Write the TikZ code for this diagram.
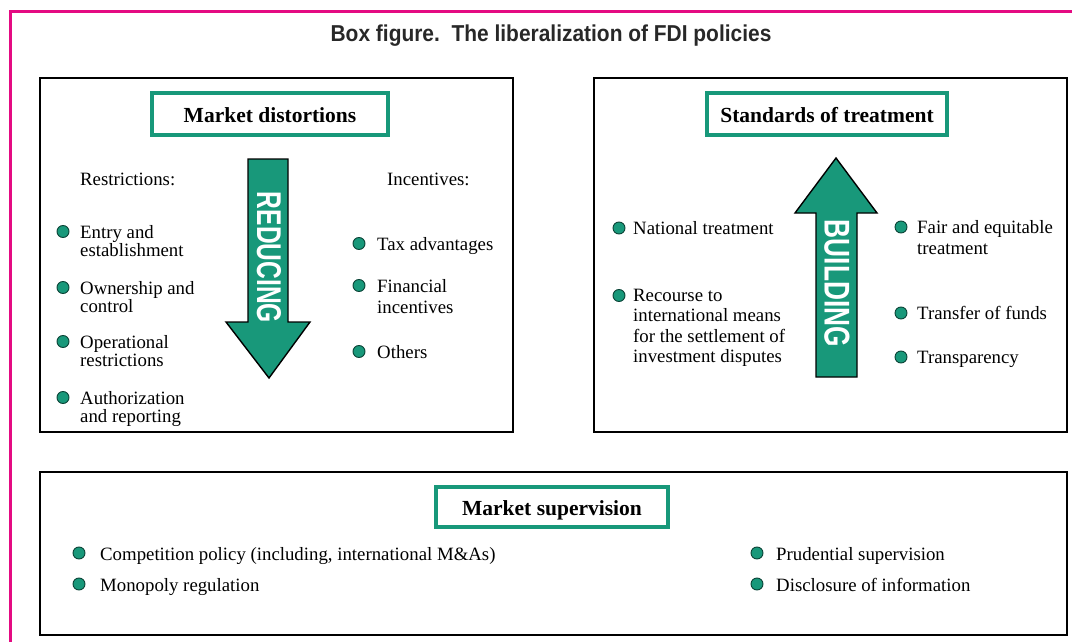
\documentclass[tikz,border=0pt]{standalone}
\usepackage{fontspec}
\usepackage{graphicx}
\setmainfont{Liberation Serif}
\setsansfont{Liberation Sans}
\newfontfamily\titlefont[FakeStretch=0.91]{Liberation Sans}
\definecolor{tealc}{RGB}{24,152,122}
\definecolor{pinkc}{RGB}{228,10,130}
\definecolor{titlegray}{RGB}{40,40,40}
\begin{document}
\begin{tikzpicture}[x=1pt,y=-1pt,
  box/.style={draw=black,line width=1.6pt,inner sep=0pt,anchor=north west},
  hdr/.style={draw=tealc,line width=3.2pt,font=\fontsize{21.5}{24}\selectfont\bfseries,inner sep=0pt,text height=16pt,text depth=0pt},
  txt/.style={font=\fontsize{18.8}{18}\selectfont,inner sep=0pt,anchor=base west,align=left},
  dot/.style={circle,fill=tealc,draw=black!55!tealc,line width=0.9pt,minimum size=12pt,inner sep=0pt},
  bigarrow/.style={fill=tealc,draw=black,line width=1.4pt,line join=miter},
  arrowtext/.style={text=white,font=\sffamily\bfseries,inner sep=0pt,rotate=-90}]

\useasboundingbox (0,0) rectangle (1072,642);
\draw[pinkc,line width=3pt] (1080,12) -- (10,12) -- (10,650);

\node[font=\titlefont\bfseries\fontsize{23}{26}\selectfont,anchor=base,text=titlegray,inner sep=0pt] (title) at (551,42) {Box figure.\ \ The liberalization of FDI policies};

% outer boxes
\node[box,minimum width=473pt,minimum height=354pt] (lbox) at (39,77) {};
\node[box,minimum width=473pt,minimum height=354pt] (rbox) at (593,77) {};
\node[box,minimum width=1027pt,minimum height=163pt] (bbox) at (39,471) {};

% headers
\node[hdr,minimum width=236pt,minimum height=42pt] (md) at (270,114) {Market distortions};
\node[hdr,minimum width=240pt,minimum height=42pt] (st) at (827,114) {Standards of treatment};
\node[hdr,minimum width=232pt,minimum height=40pt] (ms) at (552,507) {Market supervision};

% arrows
\draw[bigarrow] (248,159) -- (288,159) -- (288,322) -- (310,322) -- (269,378) -- (226,322) -- (248,322) -- cycle;
\node[arrowtext] (red) at (269,257.5) {\resizebox{131pt}{24pt}{REDUCING}};
\draw[bigarrow] (836,158) -- (877,213) -- (857,213) -- (857,377) -- (816,377) -- (816,213) -- (795,213) -- cycle;
\node[arrowtext] (bld) at (837,283.5) {\resizebox{127pt}{25pt}{BUILDING}};

% left box (multi-line nodes are placed by the baseline of their last line)
\node[txt] (restr) at (80,185) {Restrictions:};
\node[dot] (b1) at (63,231.5) {};
\node[txt] (t1) at (80,256) {Entry and\\establishment};
\node[dot] (b2) at (63,287.5) {};
\node[txt] (t2) at (80,312) {Ownership and\\control};
\node[dot] (b3) at (63,341.5) {};
\node[txt] (t3) at (80,366) {Operational\\restrictions};
\node[dot] (b4) at (63,397.5) {};
\node[txt] (t4) at (80,422) {Authorization\\and reporting};

\node[txt] (incent) at (387,185) {Incentives:};
\node[dot] (b5) at (359,243.5) {};
\node[txt] (t5) at (377,250) {Tax advantages};
\node[dot] (b6) at (359,285.5) {};
\node[txt] (t6) at (377,313) {Financial\\[3pt]incentives};
\node[dot] (b7) at (359,351.5) {};
\node[txt] (t7) at (377,358) {Others};

% right box
\node[dot] (b8) at (619,228) {};
\node[txt] (t8) at (633,234) {National treatment};
\node[dot] (b9) at (619,295.5) {};
\node[txt] (t9) at (633,362.5) {Recourse to\\[2.5pt]international means\\[2.5pt]for the settlement of\\[2.5pt]investment disputes};
\node[dot] (b10) at (901,227) {};
\node[txt] (t10) at (917,254) {Fair and equitable\\[3pt]treatment};
\node[dot] (b11) at (901,313) {};
\node[txt] (t11) at (917,319) {Transfer of funds};
\node[dot] (b12) at (901,357) {};
\node[txt] (t12) at (917,363) {Transparency};

% bottom box
\node[dot] (b13) at (79,553) {};
\node[txt] (t13) at (100,560) {Competition policy (including, international M\&As)};
\node[dot] (b14) at (79,584) {};
\node[txt] (t14) at (100,591) {Monopoly regulation};
\node[dot] (b15) at (757,553) {};
\node[txt] (t15) at (776,560) {Prudential supervision};
\node[dot] (b16) at (757,584) {};
\node[txt] (t16) at (776,591) {Disclosure of information};
\end{tikzpicture}
\end{document}
